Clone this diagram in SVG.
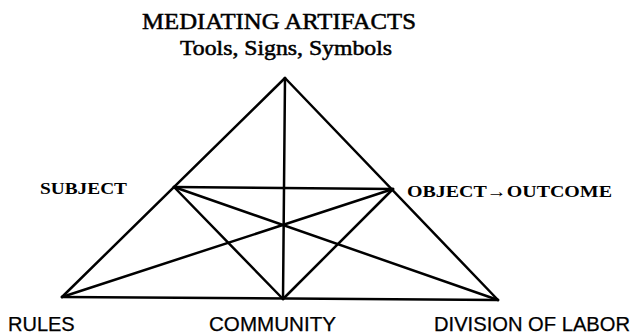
<svg xmlns="http://www.w3.org/2000/svg" width="633" height="336" viewBox="0 0 633 336">
<style>
.ln{stroke:#000;stroke-width:2.5;fill:none;stroke-linecap:round;stroke-linejoin:round}
.t{font-family:"Liberation Serif","Times New Roman",serif;fill:#000;stroke:#000;stroke-width:0.5}
.b{font-family:"Liberation Serif","Times New Roman",serif;font-weight:bold;fill:#000}
.s{font-family:"Liberation Sans",Arial,sans-serif;fill:#000;stroke:#000;stroke-width:0.25}
</style>
<rect width="633" height="336" fill="#fff"/>
<g id="connectors">
<line class="ln" x1="285" y1="78" x2="62" y2="297"/>
<line class="ln" x1="285" y1="78" x2="498" y2="300"/>
<line class="ln" x1="62" y1="297" x2="498" y2="300"/>
<line class="ln" x1="285" y1="78" x2="283" y2="299"/>
<line class="ln" x1="174" y1="187" x2="393" y2="189"/>
<line class="ln" x1="174" y1="187" x2="283" y2="299"/>
<line class="ln" x1="393" y1="189" x2="283" y2="299"/>
<line class="ln" x1="174" y1="187" x2="498" y2="300"/>
<line class="ln" x1="393" y1="189" x2="62" y2="297"/>
</g>
<g id="mediating">
<text class="t" x="142" y="29" font-size="23" textLength="274" lengthAdjust="spacingAndGlyphs">MEDIATING ARTIFACTS</text>
<text class="t" x="180" y="55" font-size="21" textLength="212" lengthAdjust="spacingAndGlyphs">Tools, Signs, Symbols</text>
</g>
<g id="subject"><text class="b" x="40" y="194" font-size="17" textLength="87" lengthAdjust="spacingAndGlyphs">SUBJECT</text></g>
<g id="object"><text class="b" x="407" y="197" font-size="17" textLength="205" lengthAdjust="spacingAndGlyphs">OBJECT→OUTCOME</text></g>
<g id="rules"><text class="s" x="8" y="331" font-size="20">RULES</text></g>
<g id="community"><text class="s" x="209" y="331" font-size="20" textLength="127" lengthAdjust="spacingAndGlyphs">COMMUNITY</text></g>
<g id="division"><text class="s" x="434" y="331" font-size="20" textLength="196" lengthAdjust="spacingAndGlyphs">DIVISION OF LABOR</text></g>
</svg>
